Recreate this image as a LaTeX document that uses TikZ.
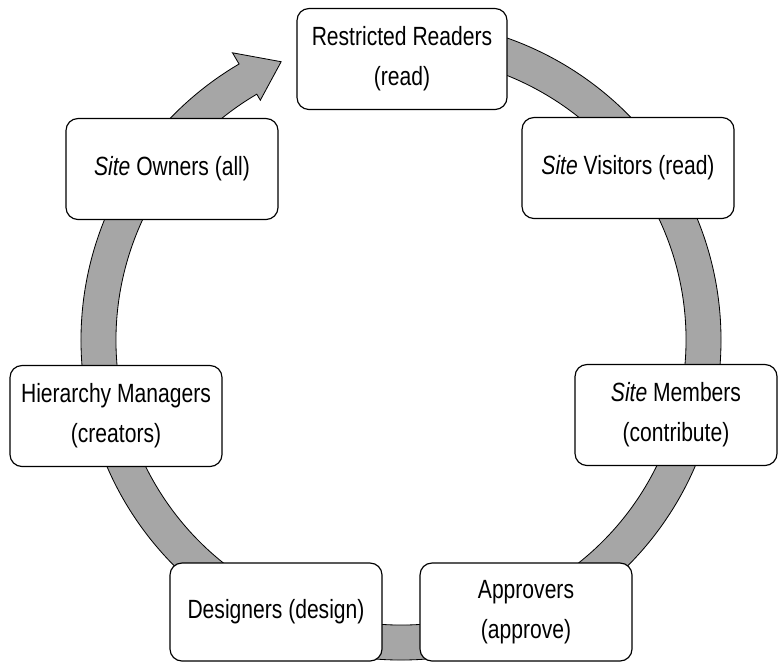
\documentclass[tikz,border=0pt]{standalone}
\usepackage{fontspec}
\setmainfont{Liberation Sans}[FakeStretch=0.8]
\usepackage{tikz}
\definecolor{ringgray}{HTML}{A6A6A6}

\begin{document}
\begin{tikzpicture}[
    x=0.03cm, y=-0.03cm,
    every node/.style={font=\fontsize{22.5}{34}\selectfont},
    role/.style={rectangle, rounded corners=0.36cm, draw=black, fill=white, line width=1pt, align=center, minimum width=6.36cm, minimum height=3.03cm, inner sep=0pt},
    ring/.style={fill=ringgray, draw=black, line width=0.7pt}
]
\useasboundingbox (0,0) rectangle (778,662);

% Cycle ring, clockwise, ending in the arrow head
\coordinate (hub) at (401,340);
\begin{scope}[shift={(hub)}, x=1cm, y=1cm]
\filldraw[ring] (90:9.6) arc[start angle=90, end angle=-239.6, radius=9.6]
    -- (-239.6:9.99) -- (-246.7:9.09) -- (-239.6:8.34)
    -- (-239.6:8.55) arc[start angle=-239.6, end angle=90, radius=8.55] -- cycle;
\end{scope}

% Roles round the ring
\node[role, minimum width=6.3cm] (rr) at (402,59) {Restricted Readers\\(read)};
\node[role] (so) at (172,169) {\textit{Site} Owners (all)};
\node[role] (sv) at (628,168) {\textit{Site} Visitors (read)};
\node[role] (hm) at (116,416) {Hierarchy Managers\\(creators)};
\node[role, minimum width=6.06cm] (sm) at (676,415) {\textit{Site} Members\\(contribute)};

% Bottom pair
\node[role, minimum height=2.94cm] (des) at (276,612) {Designers (design)};
\node[role, minimum height=2.94cm] (app) at (526,612) {Approvers\\(approve)};
\end{tikzpicture}
\end{document}
